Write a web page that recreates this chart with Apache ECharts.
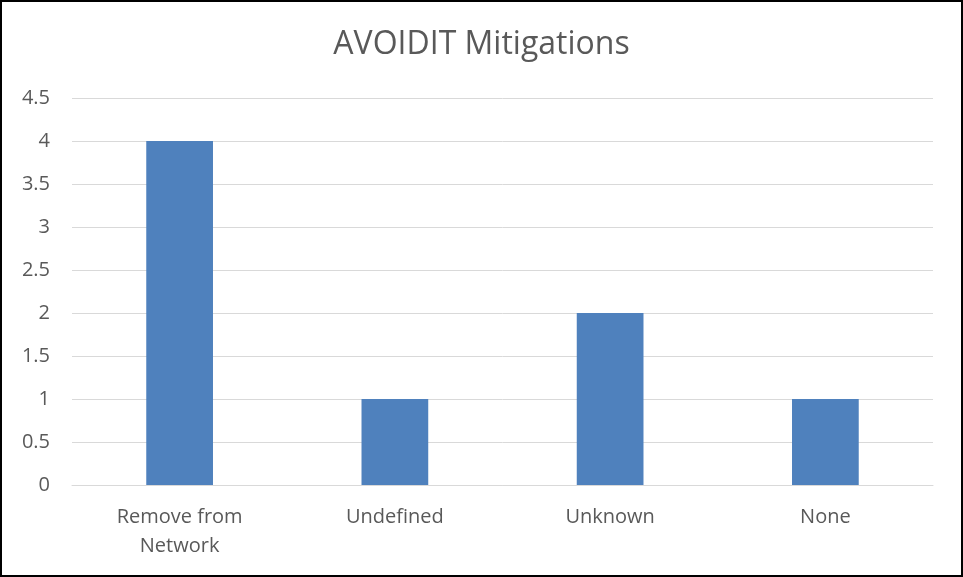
<!DOCTYPE html>
<html>
<head>
<meta charset="utf-8">
<script src="https://cdn.jsdelivr.net/npm/echarts@6/dist/echarts.min.js"></script>
<style>
  html, body { margin: 0; padding: 0; background: #fff; }
  #chart {
    width: 963px;
    height: 577px;
    box-sizing: border-box;
    border: 2px solid #000;
  }
</style>
</head>
<body>
<div id="chart"></div>
<script>
// chart data
const categories = ["Remove from\nNetwork", "Undefined", "Unknown", "None"];
const mitigations = [4, 1, 2, 1];

const chart = echarts.init(document.getElementById("chart"));

chart.setOption({
  backgroundColor: "#fff",
  animation: false,
  title: {
    text: "AVOIDIT Mitigations",
    left: "center",
    top: 22,
    textStyle: {
      color: "#595959",
      fontSize: 32,
      fontWeight: "normal",
      fontFamily: "Open Sans",
    },
  },
  grid: {
    left: 70,
    right: 28,
    top: 96,
    bottom: 90,
  },
  xAxis: {
    type: "category",
    data: categories,
    axisLine: { lineStyle: { color: "#d9d9d9", width: 1 } },
    axisTick: { show: false },
    axisLabel: {
      color: "#595959",
      fontSize: 20,
      fontFamily: "Open Sans",
      margin: 18,
      lineHeight: 29,
    },
  },
  yAxis: {
    type: "value",
    min: 0,
    max: 4.5,
    interval: 0.5,
    axisLine: { show: false },
    axisTick: { show: false },
    splitLine: { lineStyle: { color: "#d9d9d9", width: 1 } },
    axisLabel: {
      color: "#595959",
      fontSize: 20,
      fontFamily: "Open Sans",
      margin: 22,
    },
  },
  series: [
    {
      name: "AVOIDIT Mitigations",
      type: "bar",
      data: mitigations,
      barWidth: "31%",
      itemStyle: { color: "#4f81bd" },
    },
  ],
});
</script>
</body>
</html>
